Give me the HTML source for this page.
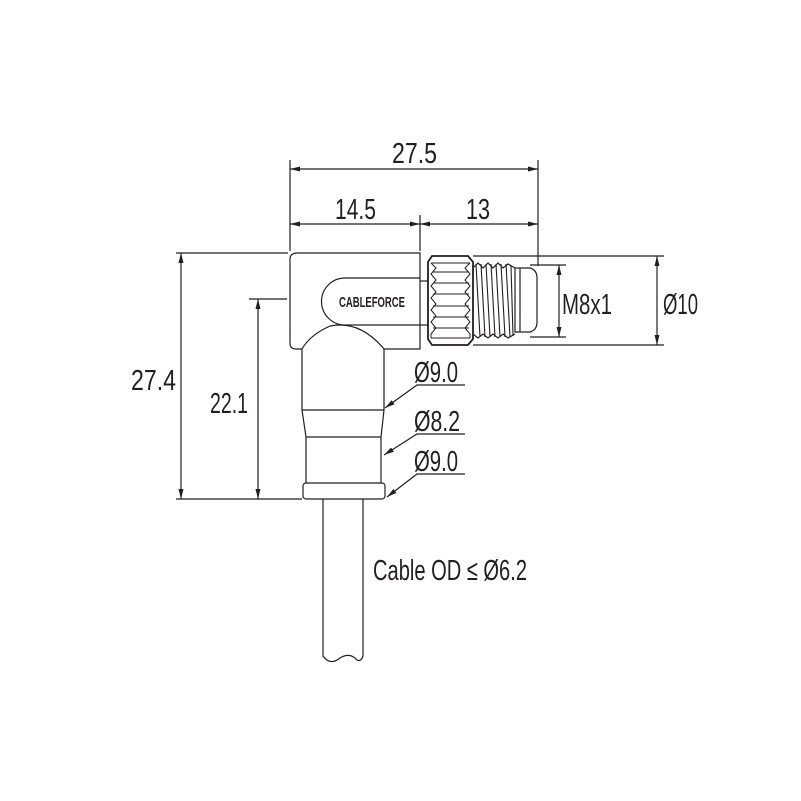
<!DOCTYPE html>
<html><head><meta charset="utf-8"><style>
html,body{margin:0;padding:0;background:#fff}
svg{display:block}
text{font-family:"Liberation Sans",sans-serif;fill:#231f20}
</style></head><body>
<svg width="801" height="801" viewBox="0 0 801 801" xmlns="http://www.w3.org/2000/svg">
<defs>
<marker id="a" viewBox="0 0 10 6" refX="10" refY="3" markerWidth="10" markerHeight="6" orient="auto-start-reverse" markerUnits="userSpaceOnUse"><path d="M0,0.5 L10,3 L0,5.5z" fill="#231f20"/></marker>
</defs>
<g stroke="#231f20" stroke-width="1.2" fill="none">
<line x1="290" y1="160" x2="290" y2="251"/>
<line x1="420" y1="215" x2="420" y2="251"/>
<line x1="538" y1="160" x2="538" y2="266"/>
<line x1="176" y1="253" x2="288" y2="253"/>
<line x1="176" y1="499" x2="302" y2="499"/>
<line x1="249" y1="299" x2="287" y2="299"/>
<line x1="473" y1="256" x2="664" y2="256"/>
<line x1="473" y1="345" x2="664" y2="345"/>
<line x1="530" y1="265" x2="566" y2="265"/>
<line x1="530" y1="337" x2="566" y2="337"/>
<line x1="290" y1="169" x2="538" y2="169" marker-start="url(#a)" marker-end="url(#a)"/>
<line x1="290" y1="224" x2="420" y2="224" marker-start="url(#a)" marker-end="url(#a)"/>
<line x1="420" y1="224" x2="538" y2="224" marker-start="url(#a)" marker-end="url(#a)"/>
<line x1="181" y1="253" x2="181" y2="499" marker-start="url(#a)" marker-end="url(#a)"/>
<line x1="258" y1="299" x2="258" y2="499" marker-start="url(#a)" marker-end="url(#a)"/>
<line x1="559" y1="265" x2="559" y2="337" marker-start="url(#a)" marker-end="url(#a)"/>
<line x1="657" y1="256" x2="657" y2="345" marker-start="url(#a)" marker-end="url(#a)"/>
<polyline points="465,385 417,385 385,408" marker-end="url(#a)"/>
<polyline points="465,434 417,434 384,455" marker-end="url(#a)"/>
<polyline points="465,474 417,474 387,497" marker-end="url(#a)"/>
<path d="M298,253 H420 V349 H410 L384,349 Q360,320 330,326 Q310,335 302,349 H296 Q290,349 290,343 V259 Q290,253 298,253Z"/>
<path d="M420,278 H345 A23.5,23.5 0 0 0 345,325 H420"/>
<path d="M302,349 V410 L306,437 V483 M384,349 V410 L381,437 V483"/>
<line x1="302" y1="410" x2="384" y2="410"/>
<line x1="306" y1="437" x2="381" y2="437"/>
<rect x="303" y="483" width="82" height="16" rx="3"/>
<path d="M323,499 V656 Q330,666 340,658 Q350,652 357,660 Q361,662 363,656 V499"/>
<line x1="420" y1="281" x2="428" y2="281"/>
<line x1="420" y1="325" x2="428" y2="325"/>
<path d="M432,256 H468 L473,262 V339 L468,345 H432 L428,339 V262Z" stroke-width="1.8"/>
<path d="M431,263 H470 M433,272 H469 M433,283 H469 M433,294 H469 M433,306 H469 M433,317 H469 M433,328 H469 M431,338 H470" stroke-width="1"/>
<path d="M431,263 L436,268 L431,274 L436,280 L431,286 L436,292 L431,298 L436,304 L431,310 L436,316 L431,322 L436,328 L431,334 L431,338" stroke-width="1"/>
<path d="M470,263 L465,268 L470,274 L465,280 L470,286 L465,292 L470,298 L465,304 L470,310 L465,316 L470,322 L465,328 L470,334 L470,338" stroke-width="1"/>
<path d="M473,268 L478,263 L483,268 L488,263 L493,268 L498,263 L503,268 L508,264 L515,268 M473,334 L478,338 L483,334 L488,338 L493,334 L498,338 L503,334 L508,338 L515,334" stroke-width="1.2"/>
<path d="M476,264 L480,337 M481,264 L485,337 M486,264 L490,337 M491,264 L495,337 M496,264 L500,337 M501,264 L505,337 M506,264 L510,337 M511,266 L513,336" stroke-width="1.1"/>
<path d="M515,268 H530 Q537,270 537,278 V322 Q537,330 530,332 H515 Z"/>
<line x1="520" y1="268" x2="520" y2="332"/>
</g>
<g font-size="29" lengthAdjust="spacingAndGlyphs">
<text x="392" y="163" textLength="45" lengthAdjust="spacingAndGlyphs">27.5</text>
<text x="335" y="219" textLength="41" lengthAdjust="spacingAndGlyphs">14.5</text>
<text x="466" y="219" textLength="24" lengthAdjust="spacingAndGlyphs">13</text>
<text x="131" y="390" textLength="45" lengthAdjust="spacingAndGlyphs">27.4</text>
<text x="210" y="413" textLength="38" lengthAdjust="spacingAndGlyphs">22.1</text>
<text x="562" y="314" textLength="50" lengthAdjust="spacingAndGlyphs">M8x1</text>
<text x="663" y="314" textLength="35" lengthAdjust="spacingAndGlyphs">Ø10</text>
<text x="414" y="382" textLength="44" lengthAdjust="spacingAndGlyphs">Ø9.0</text>
<text x="414" y="431" textLength="46" lengthAdjust="spacingAndGlyphs">Ø8.2</text>
<text x="414" y="471" textLength="44" lengthAdjust="spacingAndGlyphs">Ø9.0</text>
<text x="373" y="580" textLength="154" lengthAdjust="spacingAndGlyphs">Cable OD ≤ Ø6.2</text>
<text x="339" y="307" font-size="15" font-weight="bold" textLength="66" lengthAdjust="spacingAndGlyphs">CABLEFORCE</text>
</g>
</svg>
</body></html>
